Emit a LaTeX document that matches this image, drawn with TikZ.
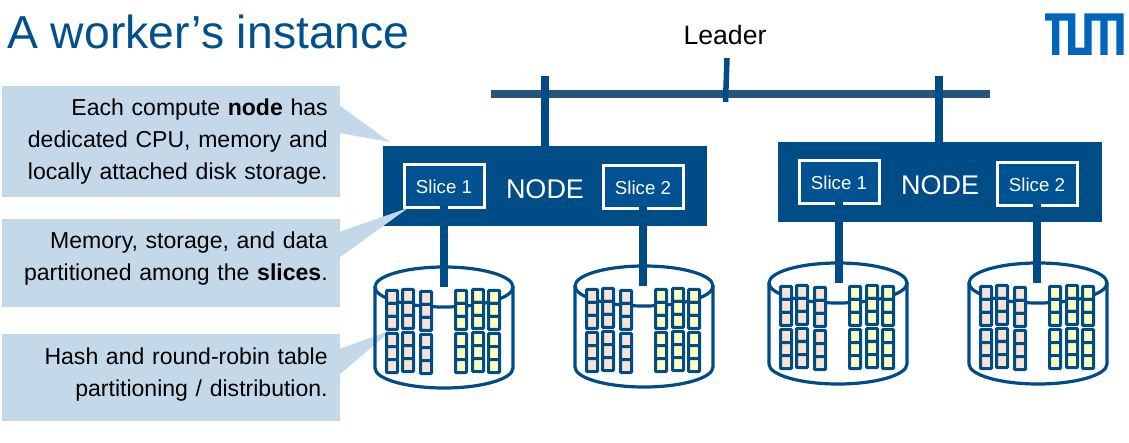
\documentclass[tikz,border=0pt]{standalone}
\usepackage{fontspec}
\setmainfont{Liberation Sans}
\usepackage{xcolor}
\usetikzlibrary{positioning}
\definecolor{mynavy}{RGB}{0,76,134}
\definecolor{myslice}{RGB}{0,82,147}
\definecolor{mybus}{RGB}{38,84,122}
\definecolor{mycall}{RGB}{195,217,234}
\definecolor{mypeach}{RGB}{250,227,212}
\definecolor{myyellow}{RGB}{255,255,192}
\definecolor{mylogo}{RGB}{0,101,189}
\definecolor{mytitle}{RGB}{0,80,140}
\tikzset{
  callbox/.style={fill=mycall,minimum width=338pt,text width=313pt,align=right,inner xsep=12.5pt,inner ysep=0pt,anchor=north west,font=\fontsize{23.05}{32}\selectfont},
  computebox/.style={fill=mynavy,minimum width=324pt,minimum height=80pt,inner sep=0pt,text=white,text height=24.6pt,text depth=0pt,font=\fontsize{27}{30}\selectfont},
  slicebox/.style={fill=myslice,draw=white,line width=3pt,minimum width=80pt,minimum height=43pt,inner sep=0pt,text=white,text height=15pt,text depth=0pt,font=\fontsize{18.7}{22}\selectfont},
  wire/.style={mynavy,line width=7.5pt},
  cellblock/.style={draw=mynavy,line width=3pt,rounded corners=0.8pt},
}
\newcommand{\liftline}[1]{\rule[-#1]{0pt}{#1}}
% one cylinder with its two groups of block columns
\newcommand{\diskstore}[3]{
  \begin{scope}[shift={(#1,#2)}]
    \coordinate (#3) at (0,20);
    \draw[mynavy,line width=3.2pt] (0,20) ellipse [x radius=69,y radius=20];
    \draw[mynavy,line width=3.2pt] (-69,20) -- (-69,101) .. controls (-69,112) and (-38,121) .. (0,121) .. controls (38,121) and (69,112) .. (69,101) -- (69,20);
    \foreach \cx/\cy/\cc in {-52/0/mypeach,-36/-1/mypeach,-18/1/mypeach,17/0/myyellow,34/-1/myyellow,50/0/myyellow}{
      \foreach \gy in {24,67}{
        \foreach \ry in {0,13,26}{
          \draw[cellblock,fill=\cc] (\cx-5.5,\gy+\cy+\ry-.5) rectangle (\cx+5.5,\gy+\cy+\ry+12.5);
        }
      }
    }
  \end{scope}
}
\begin{document}
\begin{tikzpicture}[x=1pt,y=-1pt]
\useasboundingbox (0,0) rectangle (1129,443);
\node[font=\fontsize{46.3}{50}\selectfont,text=mytitle,anchor=west,inner sep=0pt] (title) at (7,32) {A worker’s instance};
\node[font=\fontsize{26.6}{30}\selectfont,inner sep=0pt] (leader) at (725,35) {Leader};
% logo
\fill[mylogo] (1045,13.3) -- (1075.3,13.3) -- (1075.3,47.7) -- (1084.3,47.7) -- (1084.3,13.3) -- (1123.7,13.3) -- (1123.7,55) -- (1116.3,55) -- (1116.3,20.7) -- (1107.7,20.7) -- (1107.7,55) -- (1100.3,55) -- (1100.3,20.7) -- (1091.7,20.7) -- (1091.7,55) -- (1068,55) -- (1068,20.7) -- (1059.3,20.7) -- (1059.3,55) -- (1052,55) -- (1052,20.7) -- (1045,20.7) -- cycle;
% callouts
\fill[mycall] (339,105) -- (390,142) -- (339,133) -- cycle;
\fill[mycall] (339,349) -- (392,330) -- (339,375) -- cycle;
\node[callbox,minimum height=111pt] (callA) at (2,86) {Each compute \textbf{node} has\\dedicated CPU, memory and\\locally attached disk storage.};
\node[callbox,minimum height=88pt] (callB) at (2,219) {Memory, storage, and data\\partitioned among the \textbf{slices}.\liftline{15pt}};
\node[callbox,minimum height=87pt] (callC) at (2,334) {Hash and round-robin table\\partitioning / distribution.\liftline{11pt}};
% bus
\coordinate (busL) at (491,94);
\coordinate (busR) at (990,94);
\coordinate (tapA) at (545,76);
\coordinate (tapB) at (939,76);
\coordinate (tickT) at (727,58);
\coordinate (tickB) at (725.5,102);
\draw[mybus,line width=7.5pt] (busL) -- (busR);
\draw[mynavy,line width=5.5pt] (tickT) -- (tickB);
\node[computebox] (nodeA) at (545,186) {NODE};
\node[computebox] (nodeB) at (940,182) {NODE};
\draw[wire] (tapA) -- (nodeA.north -| tapA);
\draw[wire] (tapB) -- (nodeB.north -| tapB);
\fill[mycall] (339,232) -- (408,208) -- (339,258) -- cycle;
\node[slicebox] (sliceA) at (444,186) {Slice 1};
\node[slicebox] (sliceB) at (643,187) {Slice 2};
\node[slicebox] (sliceC) at (839,182) {Slice 1};
\node[slicebox] (sliceD) at (1037,184) {Slice 2};
% disks
\diskstore{444}{267}{diskA}
\diskstore{644}{266}{diskB}
\diskstore{838}{263}{diskC}
\diskstore{1038}{263}{diskD}
\foreach \sn/\dn in {sliceA/diskA,sliceB/diskB,sliceC/diskC,sliceD/diskD}{
  \draw[wire] ([yshift=3pt]\sn.south) -- ([yshift=-0.5pt]\sn.south |- \dn);
}
\end{tikzpicture}
\end{document}
